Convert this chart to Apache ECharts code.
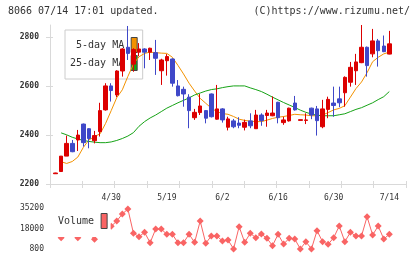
<!DOCTYPE html>
<html>
<head>
<meta charset="utf-8">
<script src="https://cdn.jsdelivr.net/npm/echarts@6/dist/echarts.min.js"></script>
<style>
  html, body { margin: 0; padding: 0; background: #fff; }
  #chart { width: 420px; height: 259px; }
</style>
</head>
<body>
<div id="chart"></div>
<script>
const dates = [
  "4/15", "4/16", "4/17", "4/18", "4/21", "4/22", "4/23", "4/24", "4/25", "4/28",
  "4/30", "5/1", "5/7", "5/8", "5/9", "5/12", "5/13", "5/14", "5/15", "5/16",
  "5/19", "5/20", "5/21", "5/22", "5/23", "5/26", "5/27", "5/28", "5/29", "5/30",
  "6/2", "6/3", "6/4", "6/5", "6/6", "6/9", "6/10", "6/11", "6/12", "6/13",
  "6/16", "6/17", "6/18", "6/19", "6/20", "6/23", "6/24", "6/25", "6/26", "6/27",
  "6/30", "7/1", "7/2", "7/3", "7/4", "7/7", "7/8", "7/9", "7/10", "7/11",
  "7/14",
];
const opens = [
  2242, 2251, 2314, 2366, 2380, 2445, 2426, 2377, 2414, 2503,
  2601, 2564, 2662, 2759, 2690, 2739, 2752, 2739, 2737, 2663,
  2704, 2711, 2601, 2587, 2555, 2471, 2492, 2500, 2568, 2465,
  2507, 2432, 2458, 2449, 2432, 2458, 2426, 2482, 2480, 2479,
  2534, 2451, 2458, 2531, 2460, 2460, 2510, 2507, 2434, 2505,
  2531, 2548, 2573, 2616, 2663, 2696, 2759, 2732, 2785, 2764,
  2731,
];
const closes = [
  2245, 2314, 2366, 2332, 2400, 2369, 2386, 2398, 2500, 2601,
  2582, 2662, 2752, 2734, 2750, 2752, 2739, 2755, 2714, 2707,
  2721, 2612, 2561, 2568, 2500, 2493, 2519, 2469, 2475, 2507,
  2462, 2466, 2434, 2440, 2452, 2438, 2482, 2459, 2490, 2490,
  2471, 2462, 2510, 2503, 2463, 2462, 2482, 2459, 2507, 2546,
  2521, 2532, 2636, 2677, 2699, 2759, 2684, 2785, 2745, 2741,
  2773,
];
const lows = [
  2241, 2251, 2314, 2330, 2335, 2353, 2346, 2366, 2394, 2500,
  2537, 2555, 2639, 2707, 2659, 2722, 2673, 2707, 2646, 2605,
  2643, 2598, 2558, 2516, 2428, 2462, 2482, 2448, 2472, 2463,
  2451, 2419, 2428, 2428, 2419, 2428, 2425, 2438, 2434, 2477,
  2448, 2442, 2455, 2500, 2460, 2445, 2465, 2398, 2428, 2469,
  2475, 2514, 2516, 2598, 2605, 2694, 2639, 2718, 2680, 2739,
  2730,
];
const highs = [
  2246, 2314, 2398, 2380, 2421, 2447, 2428, 2417, 2532, 2612,
  2612, 2665, 2755, 2846, 2755, 2776, 2755, 2757, 2789, 2712,
  2731, 2714, 2625, 2598, 2567, 2507, 2568, 2502, 2570, 2605,
  2510, 2475, 2466, 2473, 2463, 2489, 2503, 2489, 2503, 2558,
  2536, 2475, 2512, 2560, 2463, 2489, 2512, 2519, 2544, 2557,
  2598, 2598, 2640, 2699, 2732, 2850, 2762, 2834, 2793, 2807,
  2826,
];
const ma5 = [
  null, 2291, 2284, 2292, 2310, 2350, 2380, 2394, 2405, 2448,
  2500, 2553, 2585, 2640, 2690, 2720, 2734, 2739, 2737, 2735,
  2734, 2718, 2685, 2650, 2612, 2580, 2550, 2530, 2510, 2496,
  2488, 2485, 2476, 2465, 2460, 2457, 2455, 2455, 2461, 2468,
  2473, 2476, 2480, 2485, 2483, 2482, 2479, 2479, 2482, 2492,
  2503, 2509, 2520, 2555, 2590, 2617, 2655, 2700, 2718, 2732,
  2739,
];
const ma25 = [
  null, 2409, 2401, 2391, 2384, 2378, 2374, 2371, 2369, 2369,
  2372, 2378, 2386, 2396, 2410, 2436, 2455, 2470, 2482, 2496,
  2510, 2521, 2532, 2542, 2552, 2564, 2572, 2580, 2586, 2589,
  2594, 2598, 2601, 2601, 2601, 2593, 2586, 2578, 2567, 2555,
  2544, 2533, 2523, 2513, 2502, 2493, 2486, 2481, 2479, 2479,
  2479, 2483, 2487, 2496, 2505, 2512, 2522, 2532, 2545, 2557,
  2578,
];
const volumes = [
  null, 10350, 15000, 16000, 10350, 20000, 14000, 9000, 18000, 22000,
  20000, 24460, 30400, 34600, 14070, 11200, 14900, 6120, 17700, 17700,
  13220, 13220, 6120, 6120, 13220, 6400, 24460, 5620, 11800, 11800,
  7560, 8400, 900, 19640, 6400, 14070, 10350, 13480, 9840, 3590,
  13220, 5030, 9840, 9250, 900, 6970, 900, 16260, 6970, 4770,
  10350, 20240, 6970, 14900, 11800, 11800, 28090, 12630, 20240, 9250,
  13220,
];
const xLabels = ["4/30", "5/19", "6/2", "6/16", "6/30", "7/14"];
const priceTicks = [2200, 2400, 2600, 2800];

// one empty slot before the first day, three after the last
const cats = ["pre0"].concat(dates, ["post0", "post1", "post2"]);

const candleData = dates.map((d, i) => [d, opens[i], closes[i], lows[i], highs[i]]);
const pairs = (arr) => dates.map((d, i) => [d, arr[i] == null ? "-" : arr[i]]);

const mono = "DejaVu Sans Mono";
const axisGray = "#d9d9d9";
const up = "#dc0000";
const down = "#3f48c8";
const orange = "#f39200";
const green = "#16a316";
const volColor = "#f96464";

const chart = echarts.init(document.getElementById("chart"));

chart.setOption({
  animation: false,
  backgroundColor: "#fff",
  title: [
    {
      text: "8066 07/14 17:01 updated.",
      left: 8, top: 6, padding: 0,
      textStyle: { fontFamily: mono, fontSize: 10, fontWeight: "normal", color: "#333" },
    },
    {
      text: "(C)https://www.rizumu.net/",
      right: 10, top: 6, padding: 0,
      textStyle: { fontFamily: mono, fontSize: 10, fontWeight: "normal", color: "#333" },
    },
  ],
  legend: [
    {
      z: 1,
      orient: "vertical",
      left: 65, top: 30,
      padding: [7, 5, 8, 5],
      itemGap: 2, itemWidth: 6, itemHeight: 15,
      align: "right",
      icon: "rect",
      selectedMode: false,
      backgroundColor: "#fff",
      borderColor: "#ccc", borderWidth: 1, borderRadius: 0,
      textStyle: { fontFamily: mono, fontSize: 10, color: "#333", padding: [0, 2, 0, 0] },
      data: [
        { name: "5-day MA", itemStyle: { color: orange, borderColor: "#444", borderWidth: 1 } },
        { name: "25-day MA", itemStyle: { color: green, borderColor: "#444", borderWidth: 1 } },
      ],
    },
    {
      z: 6,
      left: 55, top: 208,
      padding: [5, 3, 8, 3],
      itemWidth: 6, itemHeight: 15,
      align: "right",
      icon: "rect",
      selectedMode: false,
      backgroundColor: "#fff",
      borderWidth: 0,
      textStyle: { fontFamily: mono, fontSize: 10, color: "#333", padding: [0, 2, 0, 0] },
      data: [
        { name: "Volume", itemStyle: { color: volColor, borderColor: "#444", borderWidth: 1 } },
      ],
    },
  ],
  grid: [
    { left: 50, right: 14, top: 25, height: 159, outerBoundsMode: "none" },
    { left: 50, right: 14, top: 208.3, height: 40.7, outerBoundsMode: "none" },
  ],
  xAxis: [
    {
      type: "category", gridIndex: 0, data: cats, boundaryGap: false,
      axisLine: { lineStyle: { color: axisGray, width: 1 } },
      axisTick: { show: false },
      splitLine: { show: false },
      axisLabel: {
        interval: (i, v) => xLabels.includes(v),
        fontFamily: mono, fontSize: 8, color: "#333", margin: 10, lineHeight: 8,
      },
    },
    {
      // plain tick marks, evenly spaced along the bottom
      type: "value", gridIndex: 0, position: "bottom", min: 0, max: 11, interval: 1,
      axisLine: { show: false },
      axisTick: { show: true, length: 4, lineStyle: { color: axisGray } },
      axisLabel: { show: false },
      splitLine: { show: false },
    },
    {
      type: "value", gridIndex: 0, position: "bottom", min: 0, max: 11, interval: 1,
      axisLine: { show: false },
      axisTick: { show: true, inside: true, length: 3, lineStyle: { color: axisGray } },
      axisLabel: { show: false },
      splitLine: { show: false },
    },
    {
      type: "category", gridIndex: 1, data: cats, boundaryGap: false, show: false,
    },
  ],
  yAxis: [
    {
      type: "value", gridIndex: 0, position: "left", min: 2200, max: 2850, interval: 200,
      axisLine: { show: true, lineStyle: { color: axisGray } },
      axisTick: { show: true, length: 4, customValues: priceTicks, lineStyle: { color: axisGray } },
      splitLine: { show: false },
      axisLabel: {
        customValues: priceTicks, margin: 11,
        formatter: (v) => String(v),
        fontFamily: mono, fontSize: 8, fontWeight: "bold", color: "#333",
      },
    },
    {
      type: "value", gridIndex: 0, position: "left", min: 2200, max: 2850, interval: 200,
      axisLine: { show: false },
      axisTick: { show: true, inside: true, length: 3, customValues: priceTicks, lineStyle: { color: axisGray } },
      axisLabel: { show: false },
      splitLine: { show: false },
    },
    {
      type: "value", gridIndex: 1, min: 800, max: 35200, interval: 17200,
      axisLine: { show: false },
      axisTick: { show: false },
      splitLine: { show: false },
      axisLabel: {
        margin: 6, formatter: (v) => String(v),
        fontFamily: mono, fontSize: 8, color: "#333",
      },
    },
  ],
  series: [
    {
      name: "price",
      type: "candlestick",
      xAxisIndex: 0, yAxisIndex: 0,
      z: 3,
      barWidth: 4,
      encode: { x: 0, y: [1, 2, 3, 4] },
      itemStyle: { color: up, color0: down, borderColor: up, borderColor0: down, borderWidth: 1 },
      data: candleData,
    },
    {
      name: "5-day MA",
      type: "line",
      xAxisIndex: 0, yAxisIndex: 0,
      z: 2,
      showSymbol: false,
      lineStyle: { color: orange, width: 1 },
      itemStyle: { color: orange },
      data: pairs(ma5),
    },
    {
      name: "25-day MA",
      type: "line",
      xAxisIndex: 0, yAxisIndex: 0,
      z: 2,
      showSymbol: false,
      lineStyle: { color: green, width: 1 },
      itemStyle: { color: green },
      data: pairs(ma25),
    },
    {
      name: "Volume",
      type: "line",
      xAxisIndex: 3, yAxisIndex: 2,
      z: 3,
      symbol: "diamond",
      symbolSize: 7,
      showAllSymbol: true,
      lineStyle: { color: volColor, width: 1 },
      itemStyle: { color: volColor },
      data: pairs(volumes),
    },
  ],
});
</script>
</body>
</html>
